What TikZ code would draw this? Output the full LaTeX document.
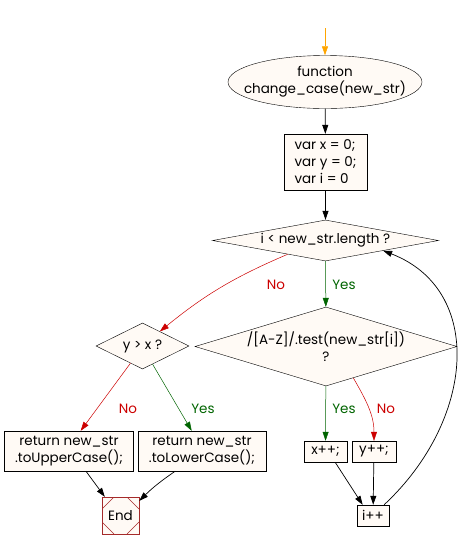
\documentclass[tikz,border=0pt]{standalone}
\usepackage{fontspec}
\setmainfont{Poppins}
\usetikzlibrary{shapes.geometric,arrows.meta,calc}
\definecolor{boxfill}{HTML}{FFFAF5}
\definecolor{yesgreen}{HTML}{006400}
\definecolor{nored}{HTML}{CC0000}
\definecolor{endred}{HTML}{A52A2A}
\definecolor{startorange}{HTML}{FFA500}
\tikzstyle{startstop} = [ellipse, minimum width=194pt, minimum height=53pt, inner xsep=-15pt, inner ysep=0pt, align=center, draw=black, fill=boxfill]
\tikzstyle{process} = [rectangle, inner sep=0pt, align=center, draw=black, fill=boxfill]
\tikzstyle{decision} = [diamond, inner sep=0pt, align=center, draw=black, fill=boxfill]
\tikzstyle{stopbox} = [rectangle, inner sep=0pt, minimum size=37pt, draw=endred, fill=boxfill,
  path picture={
    \draw[endred] ([xshift=12pt]path picture bounding box.north west) -- ([yshift=-12pt]path picture bounding box.north west);
    \draw[endred] ([xshift=-12pt]path picture bounding box.north east) -- ([yshift=-12pt]path picture bounding box.north east);
    \draw[endred] ([xshift=12pt]path picture bounding box.south west) -- ([yshift=12pt]path picture bounding box.south west);
    \draw[endred] ([xshift=-12pt]path picture bounding box.south east) -- ([yshift=12pt]path picture bounding box.south east);
  }]
\tikzstyle{arrow} = [line width=0.7pt, -{Triangle[length=9pt,width=6pt]}]
\tikzstyle{yes} = [arrow, yesgreen, line width=0.5pt]
\tikzstyle{no} = [arrow, nored, line width=0.5pt]

\begin{document}
\begin{tikzpicture}[x=1pt, y=-1pt, font=\fontsize{13.5}{17}\selectfont]
\useasboundingbox (0,0) rectangle (472,550);
\coordinate (entry) at (325,28);
\node (func) [startstop] at (325,82) {function\\change\_case(new\_str)};
\node (init) [process, minimum width=83pt, minimum height=56pt, align=left] at (325.5,162) {var x = 0;\\var y = 0;\\var i = 0};
\node (loop) [decision, aspect=5.5, minimum width=226pt, minimum height=41pt] at (325.5,240.5) {i < new\_str.length ?};
\node (test) [decision, aspect=3.3, minimum width=262pt, minimum height=79pt] at (326,346.5) {/[A-Z]/.test(new\_str[i])\\?};
\node (cmp) [decision, aspect=2, minimum width=93pt, minimum height=46pt] at (142.5,346) {y > x ?};
\node (upper) [process, minimum width=129pt, minimum height=40pt] at (69,451) {return new\_str\\.toUpperCase();};
\node (lower) [process, minimum width=128pt, minimum height=40pt] at (202,451) {return new\_str\\.toLowerCase();};
\node (stop) [stopbox] at (120.5,515.5) {End};
\node (xinc) [process, minimum width=43pt, minimum height=21pt] at (325.5,451.5) {x++;};
\node (yinc) [process, minimum width=44pt, minimum height=21pt] at (374,451.5) {y++;};
\node (iinc) [process, minimum width=32pt, minimum height=21pt] at (373,515.5) {i++};

\draw [arrow, startorange] (entry) -- (func);
\draw [arrow] (func) -- (init);
\draw [arrow] (init) -- (loop);
\draw [yes] (loop) -- (test);
\draw [no] (loop.200) to[bend right=8] (cmp.40);
\draw [no] (cmp.235) -- (upper.60);
\draw [yes] (cmp.299) -- (lower.117);
\draw [arrow] (upper.310) -- (stop.130);
\draw [arrow] (lower.217) to[bend right=5] (stop.38);
\draw [yes] (test) -- (xinc);
\draw [no] (test.311) to[out=-60, in=90] (yinc.north);
\draw [arrow] (xinc.312) -- (iinc.134);
\draw [arrow] (yinc) -- (iinc);
\draw [arrow] (iinc.44) .. controls (475,420) and (485,290) .. (loop.350);

% edge labels
\node (lno1) [nored] at (276,285) {No};
\node (lyes1) [yesgreen] at (344,285) {Yes};
\node (lno2) [nored] at (128,409) {No};
\node (lyes2) [yesgreen] at (203,409) {Yes};
\node (lyes3) [yesgreen] at (344,409) {Yes};
\node (lno3) [nored] at (386,409) {No};
\end{tikzpicture}
\end{document}
